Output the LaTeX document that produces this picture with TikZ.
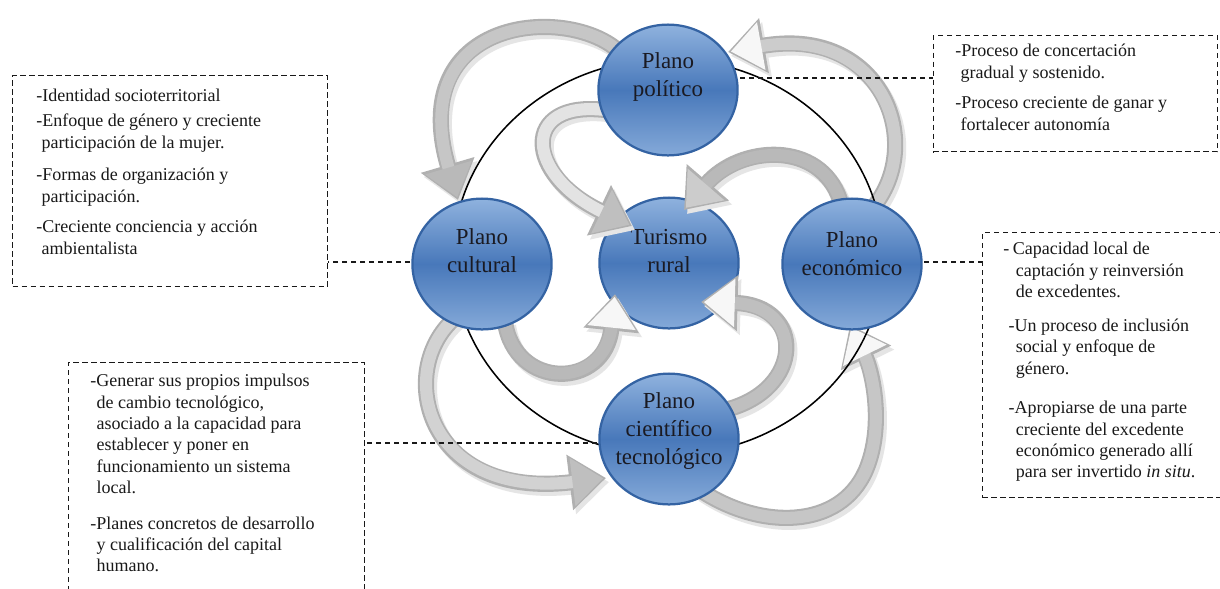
\documentclass[tikz,border=0pt]{standalone}
\usepackage{fontspec}
\setmainfont{Liberation Serif}
\usetikzlibrary{shapes.geometric,arrows.meta}

\definecolor{azulclaro}{HTML}{8FB2DE}
\definecolor{azulmedio}{HTML}{4878BA}
\definecolor{azulborde}{HTML}{3463A3}
\definecolor{tinta}{HTML}{1A1A22}

\tikzset{
  esfera/.style={ellipse, draw=azulborde, line width=1.6pt,
    minimum width=99pt, minimum height=93pt, inner sep=0pt,
    top color=azulclaro, bottom color=azulclaro!85!azulmedio, middle color=azulmedio},
  rotulo/.style={align=center, text=tinta, inner sep=0pt,
    font=\fontsize{16.3}{20}\selectfont},
  caja/.style={draw=black!90, line width=0.85pt, dash pattern=on 3.8pt off 2.6pt},
  enlace/.style={draw=black!90, line width=0.85pt, dash pattern=on 3.8pt off 2.6pt},
  texto/.style={anchor=north west, align=left, inner sep=0pt, text=black!90,
    font=\fontsize{12.8}{15.2}\selectfont},
  flechasombra/.style={line width=11.5pt, draw=gray!20, shift={(3,4)},
    -{Triangle[width=38pt,length=26pt]}},
  flechaborde/.style={line width=11.5pt, draw=gray!62,
    -{Triangle[width=38pt,length=26pt]}},
  flechacuerpo/.style 2 args={line width=8.6pt, draw=#1, shorten >=2pt,
    -{Triangle[width=33pt,length=22pt,color=#2,fill=#2]}}
}

% flecha curva: trayecto, color del cuerpo, color de la punta
\newcommand{\flecha}[3]{%
  \draw[flechasombra] #1;
  \draw[flechaborde] #1;
  \draw[flechacuerpo={#2}{#3}] #1;
}

\begin{document}
\begin{tikzpicture}[x=0.025cm, y=-0.025cm]
\useasboundingbox (0,0) rectangle (1220,588);
\fill[white] (0,0) rectangle (1220,588);

% Centros de los planos
\coordinate (cpol) at (668,90);
\coordinate (ctur) at (669,263);
\coordinate (ccul) at (482,264);
\coordinate (ceco) at (852,264);
\coordinate (ctec) at (669,439);

% Cajas de texto
\node[caja, minimum width=224pt, minimum height=150.2pt] (cajaA) at (170,181) {};
\node[caja, minimum width=202pt, minimum height=82.9pt] (cajaB) at (1075.5,93.5) {};
\node[caja, minimum width=170.8pt, minimum height=188.5pt] (cajaC) at (1102.5,365) {};
\node[caja, minimum width=210.5pt, minimum height=168.7pt] (cajaD) at (216.5,481) {};

\node[texto] (textoA) at (36,89) {-Identidad socioterritorial\\[2.5pt]
  -Enfoque de género y creciente\\
  \hspace*{0.3em}participación de la mujer.\\[8pt]
  -Formas de organización y\\
  \hspace*{0.3em}participación.\\[6.7pt]
  -Creciente conciencia y acción\\
  \hspace*{0.3em}ambientalista};

\node[texto] (textoB) at (955,44) {-Proceso de concertación\\
  \hspace*{0.3em}gradual y sostenido.\\[6.7pt]
  -Proceso creciente de ganar y\\
  \hspace*{0.3em}fortalecer autonomía};

\node[texto] (textoC) at (1003,242) {-\hspace{0.2em}Capacidad local de\\
  \hspace*{0.7em}captación y reinversión\\
  \hspace*{0.7em}de excedentes.\\[8.9pt]
  \hspace*{0.3em}-Un proceso de inclusión\\
  \hspace*{0.7em}social y enfoque de\\
  \hspace*{0.7em}género.\\[13pt]
  \hspace*{0.3em}-Apropiarse de una parte\\
  \hspace*{0.7em}creciente del excedente\\
  \hspace*{0.7em}económico generado allí\\
  \hspace*{0.7em}para ser invertido \textit{in situ}.};

\node[texto] (textoD) at (90,374) {-Generar sus propios impulsos\\
  \hspace*{0.35em}de cambio tecnológico,\\
  \hspace*{0.35em}asociado a la capacidad para\\
  \hspace*{0.35em}establecer y poner en\\
  \hspace*{0.35em}funcionamiento un sistema\\
  \hspace*{0.35em}local.\\[10pt]
  -Planes concretos de desarrollo\\
  \hspace*{0.35em}y cualificación del capital\\
  \hspace*{0.35em}humano.};

% Plano central
\node[esfera] (tur) at (ctur) {};
\node[rotulo] (turT) at ([yshift=8.3pt]ctur) {Turismo\\rural};

% Flechas
\flecha{(615,48) .. controls (560,5) and (405,20) .. (458,200)}{gray!45}{gray!55}
\flecha{(605,110) .. controls (520,100) and (525,175) .. (632,226)}{gray!22}{gray!50}
\flecha{(875,205) .. controls (925,140) and (880,25) .. (728,52)}{gray!40}{gray!6}
\flecha{(840,200) .. controls (820,140) and (740,145) .. (684,210)}{gray!55}{gray!40}
\flecha{(505,322) .. controls (515,390) and (605,390) .. (615,294)}{gray!55}{gray!6}
\flecha{(725,410) .. controls (805,390) and (805,305) .. (701,302)}{gray!50}{gray!6}
\flecha{(455,318) .. controls (395,370) and (425,500) .. (606,478)}{gray!35}{gray!50}
\flecha{(700,490) .. controls (760,530) and (840,530) .. (866,470)
  .. controls (885,425) and (872,370) .. (850,325)}{gray!45}{gray!6}

% Circulo que une los planos
\draw[line width=1.1pt] (668,257) ellipse [x radius=215, y radius=198];

% Enlaces con las cajas
\coordinate (epol) at ([yshift=8.5pt]cpol);
\coordinate (ecul) at ([yshift=1.4pt]ccul);
\coordinate (eeco) at ([yshift=1.4pt]ceco);
\coordinate (etec) at ([yshift=-2.8pt]ctec);
\draw[enlace] (epol) -- (epol -| cajaB.west);
\draw[enlace] (ecul) -- (ecul -| cajaA.east);
\draw[enlace] (eeco) -- (eeco -| cajaC.west);
\draw[enlace] (etec) -- (etec -| cajaD.east);

% Planos
\node[esfera] (pol) at (cpol) {};
\node[esfera] (cul) at (ccul) {};
\node[esfera] (eco) at (ceco) {};
\node[esfera] (tec) at (ctec) {};
\node[rotulo] (polT) at ([yshift=9pt]cpol) {Plano\\político};
\node[rotulo] (culT) at ([yshift=9.4pt]ccul) {Plano\\cultural};
\node[rotulo] (ecoT) at ([yshift=7.2pt]ceco) {Plano\\económico};
\node[rotulo] (tecT) at ([yshift=5.5pt]ctec) {Plano\\científico\\tecnológico};

\end{tikzpicture}
\end{document}
